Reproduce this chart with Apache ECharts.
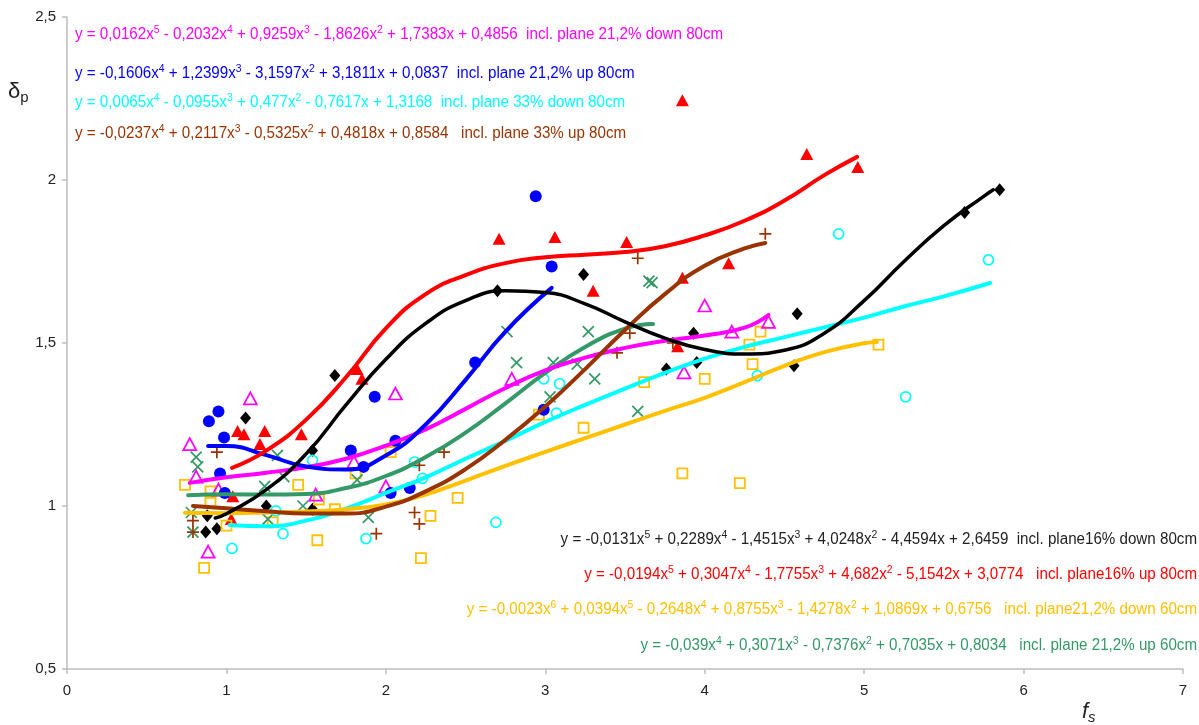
<!DOCTYPE html>
<html><head><meta charset="utf-8">
<script src="https://cdn.jsdelivr.net/npm/echarts@6/dist/echarts.min.js"></script>
<style>html,body{margin:0;padding:0;background:#fff}#c{width:1199px;height:725px}</style>
</head><body><div id="c"></div>
<script>
// ---- axis ticks ----
const xTicks = [0, 1, 2, 3, 4, 5, 6, 7];
const yTicks = [0.5, 1, 1.5, 2, 2.5];

// ---- measured points [fs, delta_p] ----
const pts16Down80 = [[0.87,0.92],[0.94,0.93],[0.88,0.97],[1.12,1.27],[1.25,1.00],[1.54,1.17],[1.54,0.99],[1.68,1.40],[2.70,1.66],[3.24,1.71],[3.76,1.42],[3.93,1.53],[3.95,1.44],[4.56,1.43],[4.58,1.59],[5.63,1.90],[5.85,1.97]];
const pts16Up80 = [[1.03,0.96],[1.04,1.03],[1.07,1.23],[1.11,1.22],[1.21,1.19],[1.24,1.23],[1.47,1.22],[1.82,1.42],[1.85,1.39],[2.71,1.82],[3.06,1.825],[3.30,1.66],[3.51,1.81],[3.83,1.49],[3.86,1.70],[3.86,2.245],[4.15,1.745],[4.64,2.08],[4.96,2.04]];
const pts212Down60 = [[0.74,1.065],[0.86,0.81],[0.90,1.045],[0.90,1.01],[1.00,0.94],[1.29,0.95],[1.45,1.065],[1.57,0.895],[1.58,1.02],[1.68,0.99],[1.81,1.10],[2.03,1.165],[2.22,0.84],[2.28,0.97],[2.45,1.025],[2.96,1.28],[3.24,1.24],[3.62,1.38],[3.86,1.10],[4.00,1.39],[4.22,1.07],[4.28,1.495],[4.30,1.435],[4.35,1.535],[5.09,1.495]];
const pts212Up60 = [[0.78,0.98],[0.79,0.92],[0.81,1.15],[0.82,1.12],[1.24,1.06],[1.26,0.96],[1.32,1.155],[1.36,1.09],[1.48,1.00],[1.82,1.08],[1.89,0.965],[2.76,1.535],[2.82,1.44],[3.03,1.335],[3.05,1.44],[3.20,1.435],[3.27,1.535],[3.31,1.39],[3.58,1.29],[3.65,1.69],[3.67,1.685]];
const pts212Down80 = [[0.77,1.19],[0.81,1.09],[0.885,0.86],[0.95,1.05],[1.15,1.33],[1.56,1.035],[1.80,1.135],[2.00,1.06],[2.06,1.345],[2.79,1.39],[3.87,1.41],[4.00,1.615],[4.17,1.535],[4.40,1.565]];
const pts212Up80 = [[0.89,1.26],[0.95,1.29],[0.96,1.10],[0.985,1.21],[0.99,1.04],[1.78,1.17],[1.86,1.12],[1.93,1.335],[2.03,1.04],[2.06,1.20],[2.15,1.055],[2.56,1.44],[2.94,1.95],[2.99,1.295],[3.04,1.735]];
const pts33Down80 = [[1.035,0.87],[1.31,0.985],[1.355,0.915],[1.54,1.14],[1.875,0.90],[2.18,1.135],[2.23,1.085],[2.69,0.95],[2.99,1.39],[3.07,1.285],[3.09,1.375],[4.33,1.40],[4.84,1.835],[5.26,1.335],[5.78,1.755]];
const pts33Up80 = [[0.79,0.92],[0.79,0.955],[0.94,1.165],[1.94,0.915],[2.18,0.98],[2.21,0.945],[2.21,1.125],[2.365,1.165],[3.45,1.47],[3.53,1.53],[3.58,1.76],[3.80,1.50],[4.38,1.835]];

// ---- trend curves ----
const crv16Down80 = [[0.93,0.963],[1.0,0.976],[1.25,1.05],[1.5,1.16],[1.75,1.31],[2.0,1.45],[2.25,1.56],[2.5,1.63],[2.75,1.66],[3.0,1.655],[3.25,1.62],[3.5,1.565],[3.75,1.515],[4.0,1.48],[4.25,1.466],[4.5,1.478],[4.75,1.53],[5.0,1.63],[5.25,1.75],[5.5,1.86],[5.75,1.95],[5.81,1.97]];
const crv16Up80 = [[1.035,1.117],[1.25,1.17],[1.5,1.265],[1.75,1.395],[2.0,1.545],[2.25,1.65],[2.5,1.708],[2.75,1.745],[3.0,1.763],[3.25,1.771],[3.5,1.779],[3.75,1.797],[4.0,1.83],[4.25,1.875],[4.5,1.937],[4.75,2.015],[4.956,2.071]];
const crv212Down60 = [[0.74,0.979],[1.0,0.978],[1.25,0.98],[1.5,0.983],[1.75,0.99],[2.0,1.005],[2.25,1.035],[2.5,1.078],[2.75,1.123],[3.0,1.166],[3.25,1.208],[3.5,1.25],[3.75,1.292],[4.0,1.332],[4.25,1.38],[4.5,1.43],[4.75,1.472],[5.0,1.499],[5.08,1.503]];
const crv212Up60 = [[0.76,1.033],[1.0,1.036],[1.25,1.035],[1.5,1.037],[1.75,1.055],[2.0,1.092],[2.25,1.15],[2.5,1.225],[2.75,1.315],[3.0,1.408],[3.25,1.488],[3.5,1.544],[3.676,1.558]];
const crv212Down80 = [[0.77,1.071],[1.0,1.088],[1.25,1.102],[1.5,1.119],[1.75,1.145],[2.0,1.185],[2.25,1.235],[2.5,1.298],[2.75,1.362],[3.0,1.416],[3.25,1.455],[3.5,1.485],[3.75,1.507],[4.0,1.523],[4.25,1.547],[4.4,1.586]];
const crv212Up80 = [[0.885,1.184],[1.0,1.184],[1.25,1.156],[1.5,1.121],[1.75,1.112],[2.0,1.155],[2.25,1.25],[2.5,1.387],[2.75,1.535],[3.04,1.669]];
const crv33Down80 = [[1.02,0.942],[1.25,0.938],[1.5,0.955],[1.75,0.992],[2.0,1.04],[2.25,1.088],[2.5,1.145],[2.75,1.2],[3.0,1.258],[3.25,1.31],[3.5,1.36],[3.75,1.408],[4.0,1.452],[4.25,1.488],[4.5,1.518],[4.75,1.548],[5.0,1.578],[5.25,1.612],[5.5,1.643],[5.79,1.684]];
const crv33Up80 = [[0.79,1.0],[1.0,0.993],[1.25,0.984],[1.5,0.977],[1.75,0.977],[2.0,0.998],[2.25,1.045],[2.5,1.113],[2.75,1.203],[3.0,1.305],[3.25,1.42],[3.5,1.54],[3.75,1.65],[4.0,1.737],[4.25,1.79],[4.38,1.807]];

// ---- equation labels ----
const eqTop = [
  {t: 'y = 0,0162x^5 - 0,2032x^4 + 0,9259x^3 - 1,8626x^2 + 1,7383x + 0,4856  incl. plane 21,2% down 80cm', c: '#FF00FF'},
  {t: 'y = -0,1606x^4 + 1,2399x^3 - 3,1597x^2 + 3,1811x + 0,0837  incl. plane 21,2% up 80cm', c: '#0000FF'},
  {t: 'y = 0,0065x^4 - 0,0955x^3 + 0,477x^2 - 0,7617x + 1,3168  incl. plane 33% down 80cm', c: '#00FFFF'},
  {t: 'y = -0,0237x^4 + 0,2117x^3 - 0,5325x^2 + 0,4818x + 0,8584   incl. plane 33% up 80cm', c: '#993300'}
];
const eqBottom = [
  {t: 'y = -0,0131x^5 + 0,2289x^4 - 1,4515x^3 + 4,0248x^2 - 4,4594x + 2,6459  incl. plane16% down 80cm', c: '#222222'},
  {t: 'y = -0,0194x^5 + 0,3047x^4 - 1,7755x^3 + 4,682x^2 - 5,1542x + 3,0774   incl. plane16% up 80cm', c: '#FF0000'},
  {t: 'y = -0,0023x^6 + 0,0394x^5 - 0,2648x^4 + 0,8755x^3 - 1,4278x^2 + 1,0869x + 0,6756   incl. plane21,2% down 60cm', c: '#FFC000'},
  {t: 'y = -0,039x^4 + 0,3071x^3 - 0,7376x^2 + 0,7035x + 0,8034   incl. plane 21,2% up 60cm', c: '#339966'}
];

const EQ_FONT = "'Liberation Sans',Arial,sans-serif";
function toRich(s) {
  return s.split(/\^(\d)/).map((p, i) => i % 2 ? '{s|' + p + '}' : (p ? '{n|' + p + '}' : '')).join('');
}
function eqGraphic(e, x, y, align) {
  return {
    type: 'text', x: x, y: y, scaleX: 0.947, silent: true,
    style: {
      text: toRich(e.t), align: align, textAlign: align, verticalAlign: 'middle', textVerticalAlign: 'middle',
      rich: {
        n: {fontFamily: EQ_FONT, fontSize: 16, fill: e.c, color: e.c, lineHeight: 22, verticalAlign: 'middle'},
        s: {fontFamily: EQ_FONT, fontSize: 11, fill: e.c, color: e.c, lineHeight: 6, verticalAlign: 'top'}
      }
    }
  };
}
const topY = [35, 74, 103, 134];
const botY = [540, 575, 610, 646];
const graphics = [];
eqTop.forEach((e, i) => graphics.push(eqGraphic(e, 75, topY[i], 'left')));
eqBottom.forEach((e, i) => graphics.push(eqGraphic(e, 1197, botY[i], 'right')));
// axis titles
graphics.push({type: 'text', x: 8, y: 92, silent: true, style: {
  text: '{a|δ}{b|p}', verticalAlign: 'middle', textVerticalAlign: 'middle',
  rich: {a: {fontFamily: 'Liberation Sans, Arial', fontSize: 22, fill: '#222', color: '#222', lineHeight: 26, verticalAlign: 'middle'},
         b: {fontFamily: 'Liberation Sans, Arial', fontSize: 15, fill: '#222', color: '#222', lineHeight: 6, verticalAlign: 'bottom'}}}});
graphics.push({type: 'text', x: 1082, y: 712, silent: true, style: {
  text: '{a|f}{b|s}', verticalAlign: 'middle', textVerticalAlign: 'middle',
  rich: {a: {fontFamily: 'Liberation Sans, Arial', fontStyle: 'italic', fontSize: 22, fill: '#222', color: '#222', lineHeight: 26, verticalAlign: 'middle'},
         b: {fontFamily: 'Liberation Sans, Arial', fontStyle: 'italic', fontSize: 15, fill: '#222', color: '#222', lineHeight: 6, verticalAlign: 'bottom'}}}});

const X_PATH = 'path://M0,0L10,10M10,0L0,10';
const PLUS_PATH = 'path://M5,0L5,10M0,5L10,5';
function scatter(name, data, symbol, size, fill, border, bw) {
  return {name, type: 'scatter', data, symbol, symbolSize: size, z: 2, silent: true,
    itemStyle: {color: fill, borderColor: border, borderWidth: bw, opacity: 1}};
}
function curve(name, data, color, width) {
  return {name, type: 'line', data, smooth: 0.5, showSymbol: false, symbol: 'none', z: 5, silent: true,
    lineStyle: {color, width, cap: 'round'}};
}
const NONE = 'rgba(0,0,0,0)';
const series = [
  scatter('16% down 80cm', pts16Down80, 'diamond', [11, 13], '#000000', '#000000', 0),
  scatter('16% up 80cm', pts16Up80, 'triangle', [13, 12], '#FF0000', '#FF0000', 0),
  scatter('21,2% down 60cm', pts212Down60, 'rect', 10, NONE, '#FFC000', 1.8),
  scatter('21,2% up 60cm', pts212Up60, X_PATH, 11, NONE, '#339966', 1.7),
  scatter('21,2% down 80cm', pts212Down80, 'triangle', [13, 12], NONE, '#FF00FF', 1.7),
  scatter('21,2% up 80cm', pts212Up80, 'circle', 12, '#0000FF', '#0000FF', 0),
  scatter('33% down 80cm', pts33Down80, 'circle', 10, NONE, '#00FFFF', 1.7),
  scatter('33% up 80cm', pts33Up80, PLUS_PATH, 12, NONE, '#993300', 1.7),
  curve('c 21,2% up 60cm', crv212Up60, '#339966', 4),
  curve('c 33% down 80cm', crv33Down80, '#00FFFF', 4),
  curve('c 21,2% down 60cm', crv212Down60, '#FFC000', 4),
  curve('c 21,2% down 80cm', crv212Down80, '#FF00FF', 4),
  curve('c 21,2% up 80cm', crv212Up80, '#0000FF', 4),
  curve('c 33% up 80cm', crv33Up80, '#993300', 4),
  curve('c 16% down 80cm', crv16Down80, '#000000', 3.5),
  curve('c 16% up 80cm', crv16Up80, '#FF0000', 4)
];

const chart = echarts.init(document.getElementById('c'), null, {renderer: 'canvas'});
const axisCommon = {
  axisLine: {show: true, onZero: false, lineStyle: {color: '#BDBDBD', width: 1.5}},
  axisTick: {show: true, length: 5, lineStyle: {color: '#BDBDBD', width: 1.5}},
  splitLine: {show: false},
  axisLabel: {color: '#222', fontFamily: 'Liberation Sans, Arial', fontSize: 15}
};
chart.setOption({
  animation: false,
  backgroundColor: '#ffffff',
  grid: {left: 67, right: 16, top: 17, bottom: 56, containLabel: false},
  xAxis: Object.assign({type: 'value', min: xTicks[0], max: xTicks[xTicks.length - 1], interval: 1}, axisCommon,
    {axisLabel: Object.assign({}, axisCommon.axisLabel, {margin: 14})}),
  yAxis: Object.assign({type: 'value', min: yTicks[0], max: yTicks[yTicks.length - 1], interval: 0.5}, axisCommon,
    {axisLabel: Object.assign({}, axisCommon.axisLabel, {margin: 11, formatter: v => String(v).replace('.', ',')})}),
  graphic: graphics,
  series: series
});
</script>
</body></html>
